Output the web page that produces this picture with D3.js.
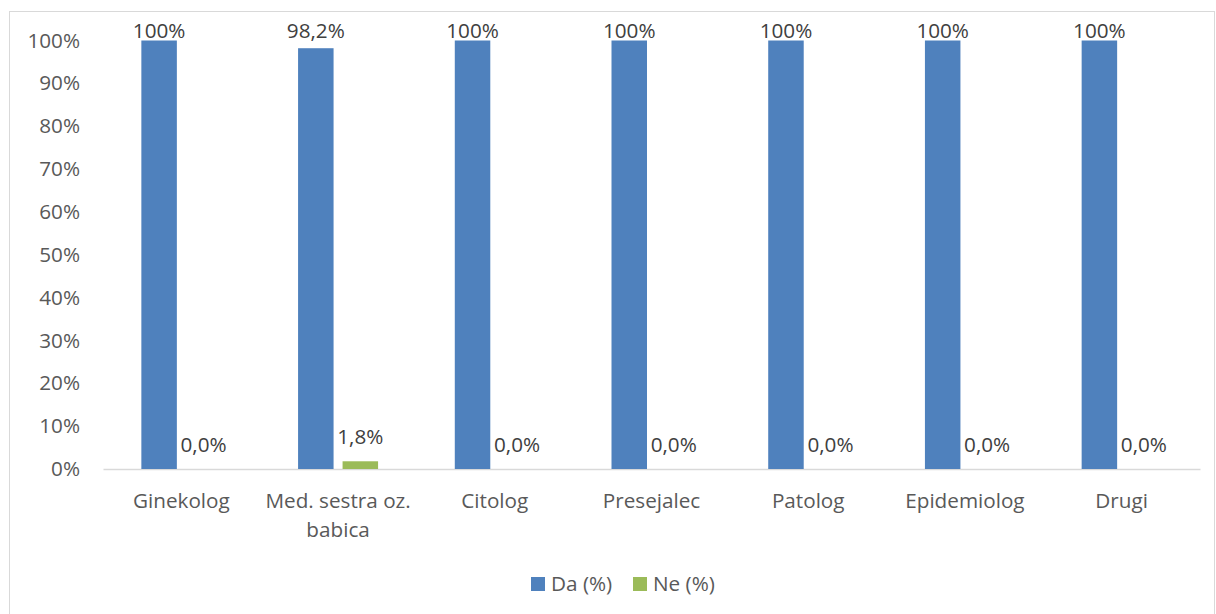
<!DOCTYPE html>
<html><head><meta charset="utf-8">
<script src="https://cdn.jsdelivr.net/npm/d3@7"></script>
<style>
html,body{margin:0;padding:0;background:#fff;}
svg{display:block;font-family:"Open Sans",sans-serif;}
</style></head>
<body><svg id="c" width="1216" height="614"></svg>
<script>
const categories = [["Ginekolog"],["Med. sestra oz.","babica"],["Citolog"],["Presejalec"],["Patolog"],["Epidemiolog"],["Drugi"]];
const daValues = [100, 98.2, 100, 100, 100, 100, 100];
const neValues = [0.0, 1.8, 0.0, 0.0, 0.0, 0.0, 0.0];
const daLabels = ["100%","98,2%","100%","100%","100%","100%","100%"];
const neLabels = ["0,0%","1,8%","0,0%","0,0%","0,0%","0,0%","0,0%"];
const yTicks = [0,10,20,30,40,50,60,70,80,90,100];
const seriesNames = ["Da (%)","Ne (%)"];
const colors = ["#4f81bd","#9bbb59"];

(function(){
const FS = 20.7;
const svg = d3.select("#c");
svg.append("rect").attr("x",9.5).attr("y",11.5).attr("width",1205).attr("height",640)
  .attr("fill","none").attr("stroke","#d9d9d9").attr("stroke-width",1);

const pLeft=103, pRight=1200, pTop=40.5, pBottom=469;
const x = d3.scaleBand().domain(d3.range(categories.length)).range([pLeft,pRight]).padding(0);
const y = d3.scaleLinear().domain([0,100]).range([pBottom,pTop]);
const barW = 35.5, gap = 4.5;

const yAxis = d3.axisLeft(y).tickValues(yTicks).tickFormat(d=>d+"%").tickSize(0).tickPadding(0);
const ya = svg.append("g").attr("transform",`translate(80,0)`).call(yAxis);
ya.select(".domain").remove();
ya.selectAll("text").attr("font-size",FS).attr("fill","#595959").attr("font-family","Open Sans");

const xAxis = d3.axisBottom(x).tickSize(0).tickFormat("");
const xa = svg.append("g").attr("transform",`translate(0,${pBottom})`).call(xAxis);
xa.select(".domain").attr("stroke","#d9d9d9").attr("stroke-width",1.5);

categories.forEach((lines,i)=>{
  const cx = x(i)+x.bandwidth()/2;
  const t = svg.append("text").attr("text-anchor","middle").attr("font-size",FS).attr("fill","#595959");
  lines.forEach((l,j)=>t.append("tspan").attr("x",cx).attr("y",508+j*28.5).text(l));
});

const g = svg.append("g");
g.selectAll(".da").data(daValues).join("rect")
  .attr("x",(d,i)=>x(i)+x.bandwidth()/2-gap-barW).attr("width",barW)
  .attr("y",d=>y(d)).attr("height",d=>pBottom-y(d)).attr("fill",colors[0]);
g.selectAll(".ne").data(neValues).join("rect")
  .attr("x",(d,i)=>x(i)+x.bandwidth()/2+gap).attr("width",barW)
  .attr("y",d=>y(d)).attr("height",d=>pBottom-y(d)).attr("fill",colors[1]);

g.selectAll(".dal").data(daValues).join("text")
  .attr("x",(d,i)=>x(i)+x.bandwidth()/2-gap-barW/2)
  .attr("y",d=>Math.max(y(d)-17, pTop-2.5))
  .attr("text-anchor","middle").attr("font-size",FS).attr("fill","#404040")
  .text((d,i)=>daLabels[i]);
g.selectAll(".nel").data(neValues).join("text")
  .attr("x",(d,i)=>x(i)+x.bandwidth()/2+gap+barW/2)
  .attr("y",d=>Math.max(y(d)-17, pTop-2.5))
  .attr("text-anchor","middle").attr("font-size",FS).attr("fill","#404040")
  .text((d,i)=>neLabels[i]);

const legX = [531,633];
seriesNames.forEach((n,i)=>{
  svg.append("rect").attr("x",legX[i]).attr("y",577).attr("width",14).attr("height",14).attr("fill",colors[i]);
  svg.append("text").attr("x",legX[i]+20).attr("y",591).attr("font-size",FS).attr("fill","#595959").text(n);
});
})();
</script></body></html>
